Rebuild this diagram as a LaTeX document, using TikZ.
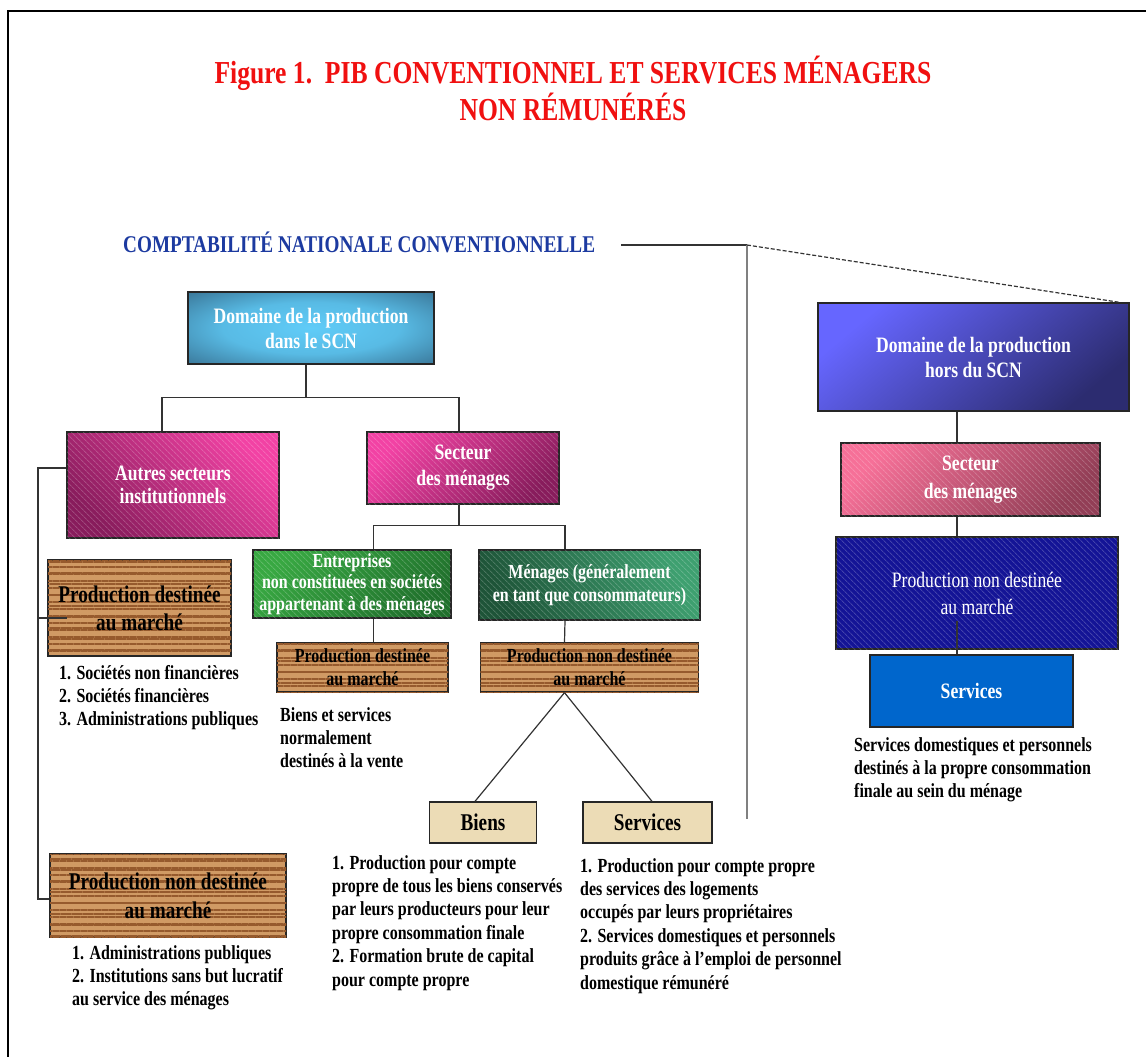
\documentclass[tikz,border=0pt]{standalone}
\usepackage{fontspec}
\setmainfont{Liberation Serif}[FakeStretch=0.8]
\usepackage{tikz}
\usetikzlibrary{shapes,patterns.meta}

\newcommand{\fsz}[2]{\fontsize{#1}{#2}\selectfont}

\definecolor{titlered}{RGB}{240,16,16}
\definecolor{headblue}{RGB}{28,58,160}
\definecolor{teallight}{RGB}{96,204,248}
\definecolor{tealdark}{RGB}{44,88,118}
\definecolor{pinklight}{RGB}{242,66,164}
\definecolor{pinkdark}{RGB}{136,28,92}
\definecolor{greenlight}{RGB}{56,168,66}
\definecolor{greendark}{RGB}{32,112,44}
\definecolor{mossdark}{RGB}{30,84,56}
\definecolor{mosslight}{RGB}{62,160,112}
\definecolor{woodc}{RGB}{208,154,100}
\definecolor{woodline}{RGB}{150,90,45}
\definecolor{parchc}{RGB}{236,220,182}
\definecolor{violetlight}{RGB}{102,102,255}
\definecolor{violetdark}{RGB}{44,44,112}
\definecolor{roselight}{RGB}{246,112,152}
\definecolor{rosedark}{RGB}{146,62,86}
\definecolor{navyc}{RGB}{20,20,150}
\definecolor{servblue}{RGB}{0,102,204}

\pgfdeclareradialshading{scnglow}{\pgfpoint{0bp}{0bp}}{color(0bp)=(teallight); color(18bp)=(teallight!85!tealdark); color(44bp)=(tealdark); color(50bp)=(tealdark)}

\tikzstyle{block} = [draw=black!85, line width=1.3pt, rectangle, align=center, inner sep=1pt]
\tikzstyle{hatch} = [postaction={fill opacity=0.2, pattern={Lines[angle=-45,distance=4pt,line width=1pt]}, pattern color=white}]
\tikzstyle{pinkbox} = [block, top color=pinklight, bottom color=pinkdark, text=white, hatch]
\tikzstyle{wood} = [block, fill=woodc, text=black,
    postaction={fill opacity=0.08, pattern={Lines[angle=0,distance=7pt,line width=1.4pt]}, pattern color=woodline},
    postaction={fill opacity=0.07, pattern={Lines[angle=0,distance=11pt,line width=2pt]}, pattern color=woodline}]
\tikzstyle{parch} = [block, fill=parchc, text=black]
\tikzstyle{conn} = [draw=black!80, line width=1.2pt]
\tikzstyle{list} = [anchor=base west, inner sep=0, align=left, font=\fsz{20}{23.4}\bfseries]

\begin{document}
\begin{tikzpicture}[x=1pt, y=-1pt]
  \useasboundingbox (0,0) rectangle (1146,1057);
  \draw [line width=2.6pt] (8,1057) -- (8,11) -- (1146,11);

  % Titles
  \node [align=center, text=titlered, font=\fsz{32}{37}\bfseries] (title) at (573,88)
    {Figure 1.\ \ PIB CONVENTIONNEL ET SERVICES MÉNAGERS\\NON RÉMUNÉRÉS};
  \node [anchor=base west, inner sep=0, text=headblue, font=\fsz{24}{28}\bfseries] (cnc) at (123,252)
    {COMPTABILITÉ NATIONALE CONVENTIONNELLE};

  % Production inside the SCN
  \node [block, shading=scnglow, text=white, minimum width=246, minimum height=72,
    font=\fsz{22}{25}\bfseries] (scn) at (311,328) {Domaine de la production\\dans le SCN};
  \node [pinkbox, shading angle=-45, minimum width=212, minimum height=106,
    font=\fsz{22}{23}\bfseries] (autres) at (173,485) {Autres secteurs\\institutionnels};
  \node [pinkbox, shading angle=45, minimum width=192, minimum height=72,
    font=\fsz{22}{26}\bfseries] (secteur) at (463,468) {Secteur\\des ménages};
  \node [block, top color=greenlight, bottom color=greendark, shading angle=45, hatch, text=white,
    minimum width=198, minimum height=68, font=\fsz{20}{21.5}\bfseries] (entr) at (352,584)
    {Entreprises\\non constituées en sociétés\\appartenant à des ménages};
  \node [block, top color=mosslight, bottom color=mossdark, shading angle=-60, hatch, text=white,
    minimum width=221, minimum height=70, font=\fsz{20}{23}\bfseries] (menages) at (589.5,585)
    {Ménages (généralement\\en tant que consommateurs)};
  \node [wood, below of=entr, node distance=83.5, xshift=10.5, minimum width=171, minimum height=49,
    font=\fsz{20}{23}\bfseries] (pdm) {Production destinée\\au marché};
  \node [wood, below of=menages, node distance=82.5, minimum width=218, minimum height=49,
    font=\fsz{20}{23}\bfseries] (pndm) {Production non destinée\\au marché};
  \node [parch, minimum width=107, minimum height=41, font=\fsz{24}{28}\bfseries] (biens) at (483,822.5) {Biens};
  \node [parch, right of=biens, node distance=164.5, minimum width=129, minimum height=41,
    font=\fsz{24}{28}\bfseries] (serv) {Services};
  \node [wood, minimum width=183, minimum height=96, font=\fsz{24}{28}\bfseries] (bigpdm) at (139.5,608)
    {Production destinée\\au marché};
  \node [wood, minimum width=236, minimum height=83, font=\fsz{24}{29}\bfseries] (bigpndm) at (168,895.5)
    {Production non destinée\\au marché};

  % Production outside the SCN
  \node [block, top color=violetlight, bottom color=violetdark, shading angle=40, text=white,
    minimum width=311, minimum height=108, font=\fsz{22}{25}\bfseries] (hscn) at (973.5,357)
    {Domaine de la production\\hors du SCN};
  \node [block, top color=roselight, bottom color=rosedark, shading angle=45, hatch, text=white,
    below of=hscn, node distance=122.5, xshift=-3, minimum width=259, minimum height=73,
    font=\fsz{22}{28}\bfseries] (secteurR) {Secteur\\des ménages};
  \node [block, fill=navyc, hatch, text=white, below of=secteurR, node distance=113.5, xshift=6.5,
    minimum width=282, minimum height=112, font=\fsz{22}{27}] (pndmR) {Production non destinée\\au marché};
  \node [block, fill=servblue, text=white, below of=pndmR, node distance=98, xshift=-5.5,
    minimum width=203, minimum height=72, font=\fsz{22}{26}\bfseries] (servR) {Services};

  % Lists (base = last line)
  \node [list] (lstA) at (59,725.8) {1. Sociétés non financières\\2. Sociétés financières\\3. Administrations publiques};
  \node [list] (lstB) at (280,767.8) {Biens et services\\normalement\\destinés à la vente};
  \node [list] (lstC) at (854,797.8) {Services domestiques et personnels\\destinés à la propre consommation\\finale au sein du ménage};
  \node [list] (lstD) at (332,986) {1. Production pour compte\\propre de tous les biens conservés\\par leurs producteurs pour leur\\propre consommation finale\\2. Formation brute de capital\\pour compte propre};
  \node [list] (lstE) at (580,989) {1. Production pour compte propre\\des services des logements\\occupés par leurs propriétaires\\2. Services domestiques et personnels\\produits grâce à l’emploi de personnel\\domestique rémunéré};
  \node [list] (lstF) at (72,1005.8) {1. Administrations publiques\\2. Institutions sans but lucratif\\au service des ménages};

  % Connections
  \coordinate (split) at (747,245);
  \coordinate (rx) at (957,0);
  \coordinate (trunk) at (38,468);
  \draw [conn] ([xshift=26pt]cnc.east |- split) -- (split);
  \draw [draw=black!50, line width=1.6pt] (split) -- ++(0,574);
  \draw [conn, dash pattern=on 4pt off 2pt] (split) -- ([xshift=-10pt]hscn.north east);

  \draw [conn] ([xshift=-11pt]autres.north) -- ++(0,-34) -| ([xshift=-5pt]scn.south);
  \draw [conn] ([xshift=-4pt]secteur.north) -- ++(0,-34) -| ([xshift=-5pt]scn.south);
  \draw [conn] ([xshift=21.5pt]entr.north) -- ++(0,-24) -| ([xshift=-4pt]secteur.south);
  \draw [conn] ([xshift=-24.5pt]menages.north) -- ++(0,-24) -| ([xshift=-4pt]secteur.south);
  \draw [conn] ([xshift=21.5pt]entr.south) -- ([xshift=11pt]pdm.north);
  \draw [conn] ([xshift=-24.5pt]menages.south) -- ([xshift=-25pt]pndm.north);
  \draw [conn] ([xshift=-25pt]pndm.south) -- ([xshift=-8pt]biens.north);
  \draw [conn] ([xshift=-25pt]pndm.south) -- ([xshift=4.5pt]serv.north);

  \draw [conn] ([yshift=17pt]autres.west) -- (trunk) |- ([yshift=-3.5pt]bigpndm.west);
  \draw [conn] ([yshift=-10pt]bigpdm.west -| trunk) -- ++(29,0);

  \draw [conn] (hscn.south -| rx) -- (secteurR.north -| rx);
  \draw [conn] (secteurR.south -| rx) -- (pndmR.north -| rx);
  \draw [conn] ([yshift=29pt]pndmR.south -| rx) -- (servR.north -| rx);
\end{tikzpicture}
\end{document}
